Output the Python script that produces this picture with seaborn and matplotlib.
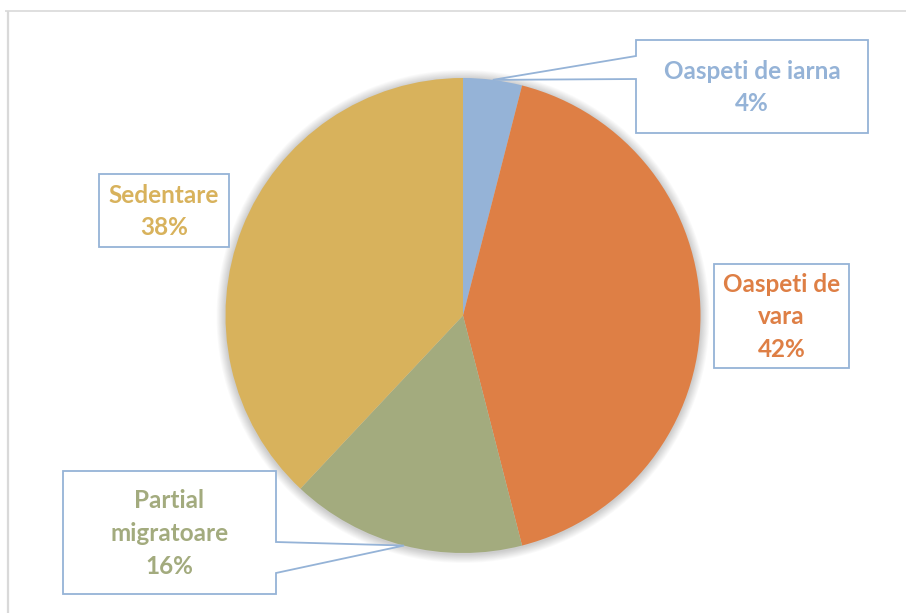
import numpy as np
import matplotlib
matplotlib.use("Agg")
import matplotlib.pyplot as plt
import seaborn as sns
from matplotlib.patches import Polygon, Circle

categories = ["Oaspeti de iarna", "Oaspeti de vara", "Partial migratoare", "Sedentare"]
values = [4, 42, 16, 38]
label_lines = [["Oaspeti de iarna"], ["Oaspeti de", "vara"], ["Partial", "migratoare"], ["Sedentare"]]
colors = ["#95B3D7", "#DE7F45", "#A3AB7E", "#D8B25C"]

sns.set_theme(style="white")
plt.rcParams['font.family'] = ['Lato', 'DejaVu Sans']

W, H = 906, 614
fig = plt.figure(figsize=(W / 100, H / 100), dpi=100)
ax = fig.add_axes([0, 0, 1, 1])
ax.set_xlim(0, W)
ax.set_ylim(0, H)
ax.axis("off")

def Y(y):
    return H - y

cx, cy, R = 463, 315.5, 237.5

# soft shadow
for k in range(10, 0, -1):
    ax.add_patch(Circle((cx, Y(cy + 1)), R + k * 0.9, color="black", alpha=0.018, lw=0, zorder=1))

ax.pie(values, colors=colors, startangle=90, counterclock=False,
       center=(cx, Y(cy)), radius=R, wedgeprops=dict(linewidth=0, zorder=2),
       frame=True)
ax.set_xlim(0, W)
ax.set_ylim(0, H)
ax.set_aspect("equal")
ax.axis("off")

# midpoints of slices on the edge (clockwise from top)
cum = np.cumsum([0] + values)
total = float(sum(values))
def tip(i):
    a = np.deg2rad((cum[i] + values[i] / 2) / total * 360.0)
    return (cx + R * np.sin(a), Y(cy - R * np.cos(a)))

edge = "#95B3D7"
# box definitions (x0, y0, x1, y1) in pixel coords
boxes = {
    0: (636, 40, 868, 133),
    1: (714, 264, 849, 368),
    2: (63, 471, 276, 594),
    3: (99, 174, 229, 247),
}

def draw_box(i, pointer=None):
    x0, y0, x1, y1 = boxes[i]
    if pointer is None:
        pts = [(x0, y0), (x1, y0), (x1, y1), (x0, y1)]
    elif pointer[0] == "left":
        _, pa, pb = pointer
        pts = [(x0, y0), (x1, y0), (x1, y1), (x0, y1), (x0, pb), ("T",), (x0, pa)]
    else:
        _, pa, pb = pointer
        pts = [(x0, y0), (x1, y0), (x1, pa), ("T",), (x1, pb), (x1, y1), (x0, y1)]
    out = []
    for p in pts:
        if p[0] == "T":
            out.append(tip(i))
        else:
            out.append((p[0], Y(p[1])))
    ax.add_patch(Polygon(out, closed=True, facecolor="white", edgecolor=edge,
                         linewidth=1.3, zorder=5, joinstyle="miter"))
    lines = label_lines[i] + [f"{values[i]}%"]
    xc = (x0 + x1) / 2
    yc = (y0 + y1) / 2 + 1
    step = 32.5
    n = len(lines)
    for j, s in enumerate(lines):
        yy = yc + (j - (n - 1) / 2) * step
        ax.text(xc, Y(yy), s, ha="center", va="center", fontsize=17.5,
                fontweight="bold", color=colors[i], zorder=6)

draw_box(0, ("left", 56, 79))
draw_box(1)
draw_box(2, ("right", 542, 573))
draw_box(3)

# chart area frame
ax.plot([5, W], [Y(11), Y(11)], color="#D9D9D9", lw=1.2, zorder=0, solid_capstyle="butt")
ax.plot([8, 8], [Y(11), Y(613)], color="#D9D9D9", lw=1.6, zorder=0, solid_capstyle="butt")

fig.savefig("out.png", dpi=100, facecolor="white")
